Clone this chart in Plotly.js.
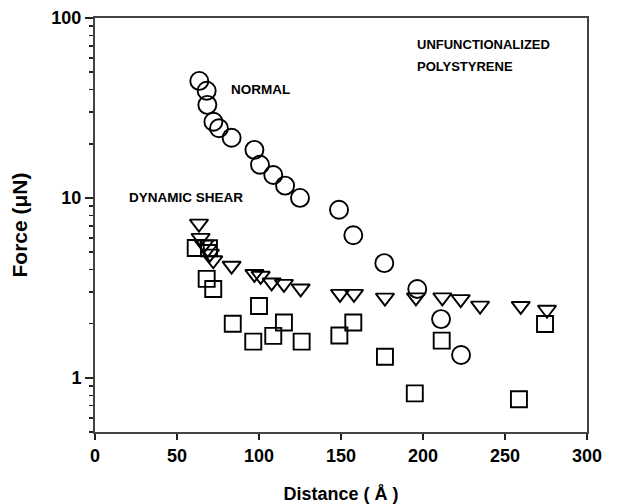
<!DOCTYPE html>
<html>
<head>
<meta charset="utf-8">
<script src="https://cdn.plot.ly/plotly-3.0.1.min.js"></script>
<style>
  html, body { margin: 0; padding: 0; background: #fff; }
  #chart { width: 620px; height: 504px; }
</style>
</head>
<body>
<div id="chart"></div>
<script>
// Force vs. distance for unfunctionalized polystyrene
const normalX = [63.6, 68.1, 68.5, 72.2, 75.6, 83.3, 97.2, 100.6, 108.7, 115.9, 125.0, 148.8, 157.5, 176.4, 196.5, 211.0, 223.2];
const normalY = [44.7, 39.4, 32.9, 26.5, 24.4, 21.6, 18.5, 15.3, 13.4, 11.7, 10.0, 8.6, 6.2, 4.34, 3.12, 2.12, 1.34];

const shearTriX = [63.4, 64.4, 66.5, 68.7, 70.1, 72.1, 83.3, 97.2, 101.0, 107.7, 115.2, 125.4, 149.4, 157.9, 176.8, 195.7, 211.8, 223.0, 234.8, 259.6, 275.6];
const shearTriY = [7.2, 6.0, 5.5, 5.2, 4.9, 4.5, 4.2, 3.78, 3.69, 3.39, 3.33, 3.14, 2.93, 2.93, 2.79, 2.8, 2.8, 2.74, 2.52, 2.51, 2.39];

const shearSqX = [61.4, 69.5, 68.1, 72.1, 84.0, 100.0, 96.5, 108.7, 115.2, 126.0, 149.0, 157.5, 176.8, 195.0, 211.4, 258.5, 274.4];
const shearSqY = [5.27, 5.25, 3.55, 3.12, 2.0, 2.51, 1.59, 1.71, 2.03, 1.59, 1.72, 2.03, 1.31, 0.82, 1.61, 0.76, 1.99];

const yMajorTicks = [1, 10, 100];
const yMajorText = ['1', '10', '100'];
const yMinorTicks = [0.5, 0.6, 0.7, 0.8, 0.9, 2, 3, 4, 5, 6, 7, 8, 9, 20, 30, 40, 50, 60, 70, 80, 90];

const FONT = '"Liberation Sans", Arial, Helvetica, sans-serif';

function series(x, y, symbol, size) {
  return {
    x: x, y: y, type: 'scatter', mode: 'markers', cliponaxis: false,
    marker: { symbol: symbol, size: size, color: '#000',
              line: { color: '#000', width: 1.9 } },
    showlegend: false, hoverinfo: 'x+y'
  };
}

const data = [
  series(shearSqX, shearSqY, 'square-open', 16),
  series(shearTriX, shearTriY, 'triangle-down-open', 16),
  series(normalX, normalY, 'circle-open', 18)
];

function label(x, y, text, xanchor, size) {
  return { x: x, y: Math.log10(y), xref: 'x', yref: 'y', text: text,
           showarrow: false, xanchor: xanchor, yanchor: 'middle',
           font: { family: FONT, size: size, weight: 'bold', color: '#000' } };
}

const layout = {
  width: 620, height: 504,
  margin: { l: 95, r: 33, t: 18, b: 72 },
  paper_bgcolor: '#fff', plot_bgcolor: '#fff',
  font: { family: FONT, color: '#000' },
  xaxis: {
    range: [0, 300], dtick: 50, tick0: 0,
    showgrid: false, zeroline: false,
    showline: true, linecolor: '#444', linewidth: 2, mirror: true,
    ticks: 'outside', ticklen: 6, tickwidth: 2, tickcolor: '#222',
    tickfont: { family: FONT, size: 18, weight: 'bold', color: '#000' },
    title: { text: 'Distance ( Å )', standoff: 24,
             font: { family: FONT, size: 18, weight: 'bold', color: '#000' } }
  },
  yaxis: {
    type: 'log', range: [Math.log10(0.5), 2],
    tickmode: 'array', tickvals: yMajorTicks, ticktext: yMajorText,
    showgrid: false, zeroline: false,
    showline: true, linecolor: '#444', linewidth: 2, mirror: true,
    ticks: 'outside', ticklen: 8, tickwidth: 1.5, tickcolor: '#222',
    minor: { tickmode: 'array', tickvals: yMinorTicks, ticks: 'outside',
             ticklen: 4, tickwidth: 1.5, tickcolor: '#222', showgrid: false },
    tickfont: { family: FONT, size: 18, weight: 'bold', color: '#000' },
    title: { text: 'Force (μN)', standoff: 18,
             font: { family: FONT, size: 21, weight: 'bold', color: '#000' } }
  },
  annotations: [
    label(101.2, 39.8, 'NORMAL', 'center', 13.5),
    label(55.5, 10, 'DYNAMIC SHEAR', 'center', 13.5),
    label(195, 10 ** ((378 - 45) / 180), 'UNFUNCTIONALIZED', 'left', 13),
    label(195, 10 ** ((378 - 67) / 180), 'POLYSTYRENE', 'left', 13)
  ]
};

Plotly.newPlot('chart', data, layout, { staticPlot: true, displayModeBar: false });
</script>
</body>
</html>
